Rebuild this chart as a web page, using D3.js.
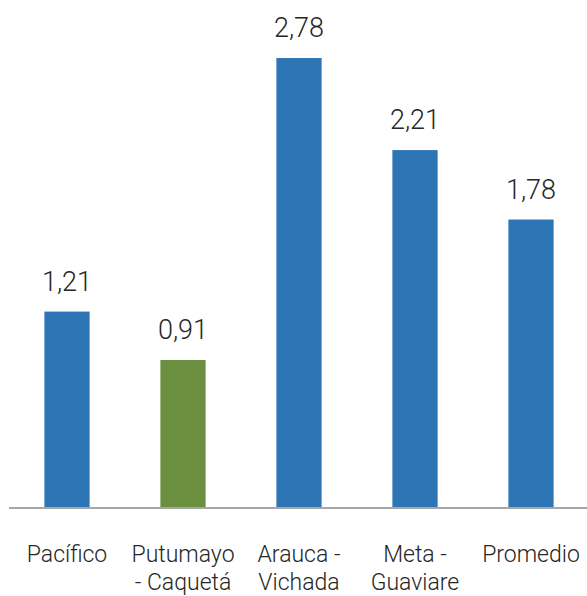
<!doctype html>
<html>
<head>
<meta charset="utf-8">
<style>
body{ margin:0; background:#ffffff; }
.val{ font-family: Roboto, "Liberation Sans", sans-serif; font-size:27px; font-weight:300; fill:#262626; }
.cat{ font-family: Roboto, "Liberation Sans", sans-serif; font-size:23px; font-weight:300; fill:#262626; }
</style>
<script src="https://d3js.org/d3.v7.min.js"></script>
</head>
<body>
<svg width="587" height="596"></svg>
<script>
var categories = ["Pacífico", "Putumayo - Caquetá", "Arauca - Vichada", "Meta - Guaviare", "Promedio"];
var labelLines = [["Pacífico"], ["Putumayo", "- Caquetá"], ["Arauca -", "Vichada"], ["Meta -", "Guaviare"], ["Promedio"]];
var values = [1.21, 0.91, 2.78, 2.21, 1.78];
var colors = ["#2e75b6", "#6a8f3f", "#2e75b6", "#2e75b6", "#2e75b6"];

var svg = d3.select("svg");
var baseY = 507;

var x = d3.scaleBand()
    .domain(categories)
    .range([9, 589])
    .paddingInner(0.61)
    .paddingOuter(0.305);

var y = d3.scaleLinear()
    .domain([0, 3])
    .range([baseY, baseY - 3 * 161.5]);

svg.selectAll("rect.bar")
    .data(values)
    .enter()
    .append("rect")
    .attr("class", "bar")
    .attr("x", function(d, i) { return x(categories[i]); })
    .attr("width", x.bandwidth())
    .attr("y", function(d) { return y(d); })
    .attr("height", function(d) { return y(0) - y(d); })
    .style("fill", function(d, i) { return colors[i]; });

// baseline
svg.append("line")
    .attr("x1", 9).attr("x2", 587)
    .attr("y1", baseY + 1).attr("y2", baseY + 1)
    .style("stroke", "#a6a6a6")
    .style("stroke-width", 2);

// value labels
svg.selectAll("text.val")
    .data(values)
    .enter()
    .append("text")
    .attr("class", "val")
    .attr("text-anchor", "middle")
    .attr("x", function(d, i) { return x(categories[i]) + x.bandwidth() / 2; })
    .attr("y", function(d) { return y(d) - 21; })
    .text(function(d) { return d.toFixed(2).replace(".", ","); });

// category labels
var lab = svg.selectAll("text.cat")
    .data(categories)
    .enter()
    .append("text")
    .attr("class", "cat")
    .attr("text-anchor", "middle")
    .attr("transform", function(d) { return "translate(" + (x(d) + x.bandwidth() / 2) + ",562)"; });

lab.selectAll("tspan")
    .data(function(d, i) { return labelLines[i]; })
    .enter()
    .append("tspan")
    .attr("x", 0)
    .attr("y", function(d, j) { return j * 28; })
    .text(function(d) { return d; });
</script>
</body>
</html>
